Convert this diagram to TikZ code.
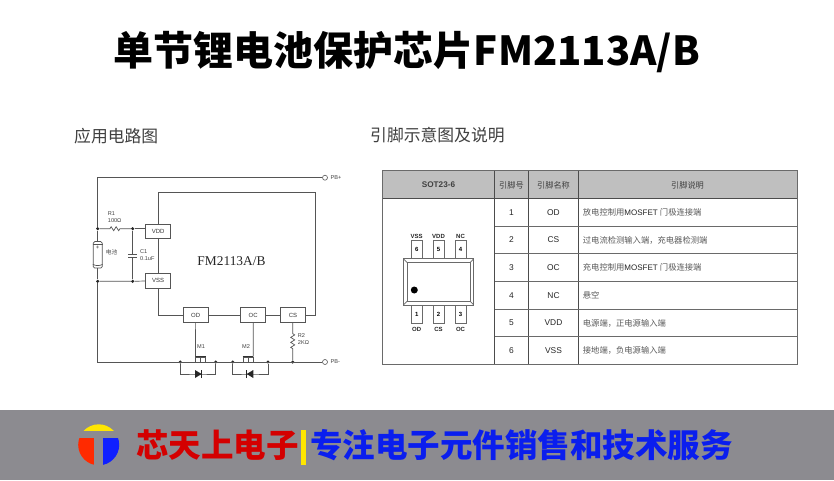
\documentclass[tikz,border=0pt]{standalone}
\usepackage{fontspec}
\setmainfont{Liberation Sans}
\newfontfamily\cjk{Noto Sans CJK SC}
\newfontfamily\chipfont{Liberation Serif}
\usetikzlibrary{decorations.pathmorphing}
\definecolor{wire}{HTML}{555555}
\definecolor{band}{HTML}{8C8B90}
\definecolor{headfill}{HTML}{BFBFBF}
\definecolor{rulecol}{HTML}{6A6A6A}
\definecolor{logored}{HTML}{FF2A00}
\definecolor{logoblue}{HTML}{0F20FF}
\definecolor{logoyellow}{HTML}{FFE600}
\definecolor{brandred}{HTML}{D40000}
\definecolor{brandblue}{HTML}{0A1EEE}
\tikzset{
	wiring/.style={draw=wire,line width=0.7pt},
	pinbox/.style={draw=wire,line width=0.7pt,fill=white,minimum width=25pt,minimum height=14.6pt,inner sep=0pt,font=\fontsize{6}{7}\selectfont,text=black!80},
	junc/.style={circle,fill=black!85,minimum size=3.4pt,inner sep=0pt},
	term/.style={circle,draw=wire,line width=0.6pt,fill=white,minimum size=5pt,inner sep=0pt},
	tiny/.style={inner sep=0pt,font=\fontsize{5.6}{7}\selectfont,text=black!75},
	resistor/.style={wiring,decorate,decoration={zigzag,segment length=5pt,amplitude=2pt,pre length=#1,post length=#1}},
	subhead/.style={inner sep=0pt,font=\cjk\fontsize{16.8}{20}\selectfont,text=black!75},
	headcell/.style={inner sep=0pt,font=\cjk\fontsize{8.2}{10}\selectfont,text=black!75},
	cell/.style={inner sep=0pt,font=\fontsize{8.4}{10}\selectfont,text=black!85},
	desc/.style={anchor=west,inner sep=0pt,font=\cjk\fontsize{8.3}{10}\selectfont,text=black!65},
	pkgpin/.style={draw=rulecol,line width=0.8pt,fill=white,minimum width=11pt,minimum height=18pt,inner sep=0pt,font=\bfseries\fontsize{6}{7}\selectfont},
	pinname/.style={inner sep=0pt,font=\bfseries\fontsize{6}{7}\selectfont,text=black!85},
	brand/.style={inner sep=0pt,font=\cjk\bfseries\fontsize{32.5}{36}\selectfont}
}
\newcommand{\mosword}{{\normalfont\fontsize{8}{10}\selectfont\color{black!85} MOSFET }}
\begin{document}
\begin{tikzpicture}[x=1pt,y=-1pt]
	\useasboundingbox (0,0) rectangle (834,480);
	\fill [white] (0,0) rectangle (834,480);

	\node [inner sep=0pt,font=\cjk\bfseries\fontsize{40}{44}\selectfont] (title) at (407,52) {单节锂电池保护芯片FM2113A/B};
	\node [subhead,anchor=west] (apphead) at (74,136) {应用电路图};
	\node [subhead,anchor=west] (pinhead) at (370,135) {引脚示意图及说明};

	\coordinate (railTL) at (97.7,177.7);
	\coordinate (railBL) at (97.7,362);
	\coordinate (chipTL) at (158.2,192);
	\coordinate (chipTR) at (315.7,192);
	\node [term] (PBplus) at (325,177.7) {};
	\node [term] (PBminus) at (325,362) {};
	\node [tiny,anchor=west] (PBplustext) at (330.5,177.7) {PB+};
	\node [tiny,anchor=west] (PBminustext) at (330.5,362) {PB-};
	\node [junc] (J1) at (97.7,228.7) {};
	\node [junc] (J2) at (132.7,228.7) {};
	\node [junc] (J3) at (97.7,281.3) {};
	\node [junc] (J4) at (132.7,281.3) {};
	\node [junc] (J5) at (180.3,362) {};
	\node [junc] (J6) at (215.7,362) {};
	\node [junc] (J7) at (232.7,362) {};
	\node [junc] (J8) at (268,362) {};
	\node [junc] (J9) at (292.7,362) {};
	\draw [wiring] (J1) -- (railTL) -- (PBplus);
	\draw [wiring] (J3) -- (railBL) -- (PBminus);

	\draw [wiring] (chipTL) -- (chipTR);
	\node [pinbox] (VDD) at (158.2,231.3) {VDD};
	\node [pinbox] (VSS) at (158.2,280.7) {VSS};
	\node [pinbox] (OD) at (195.7,315) {OD};
	\node [pinbox] (OC) at (253.2,315) {OC};
	\node [pinbox] (CS) at (293,315) {CS};
	\draw [wiring] (VDD) -- (chipTL);
	\draw [wiring] (VDD) -- (VSS);
	\draw [wiring] (VSS) |- (OD);
	\draw [wiring] (OD) -- (OC);
	\draw [wiring] (OC) -- (CS);
	\draw [wiring] (CS) -| (chipTR);
	\node [inner sep=0pt,font=\chipfont\fontsize{13.4}{15}\selectfont,text=black!85] (chipname) at (231.5,261) {FM2113A/B};

	\draw [resistor=10.3pt] (J1) -- (J2);
	\draw [wiring] (J2) -- (VDD.west |- J2);
	\draw [wiring] (J3) -- (J4) -- (VSS);
	\node [tiny,anchor=west] (R1text) at (107.7,214) {R1};
	\node [tiny,anchor=west] (R1val) at (107.7,220.7) {100Ω};

	\coordinate (C1top) at (132.7,254.3);
	\coordinate (C1bot) at (132.7,257.7);
	\draw [wiring] (J2) -- (C1top);
	\draw [wiring] (J4) -- (C1bot);
	\draw [wiring] ([xshift=-4.5pt]C1top) -- ([xshift=4.5pt]C1top);
	\draw [wiring] ([xshift=-4.5pt]C1bot) -- ([xshift=4.5pt]C1bot);
	\node [tiny,anchor=west] (C1text) at (140,251.7) {C1};
	\node [tiny,anchor=west] (C1val) at (140,258.3) {0.1uF};

	\node [draw=wire,line width=0.7pt,fill=white,rounded corners=1.5pt,minimum width=9pt,minimum height=26.5pt,inner sep=0pt] (BAT) at (97.7,254.8) {};
	\draw [wiring] (J1) -- (BAT);
	\draw [wiring] (BAT) -- (J3);
	\draw [wiring] ([yshift=-3pt]BAT.north west) -- ([yshift=-3pt]BAT.north east);
	\draw [wiring] ([yshift=4pt]BAT.south west) to [bend right=25] ([yshift=4pt]BAT.south east);
	\node [inner sep=0pt,font=\fontsize{6}{6}\selectfont,text=black!80] (BATplus) at (97.7,248) {+};
	\node [inner sep=0pt,anchor=west,font=\cjk\fontsize{5.8}{7}\selectfont,text=black!70] (BATtext) at (105.7,252) {电池};

	\draw [resistor=11pt] (CS.south -| J9) -- (J9);
	\node [tiny,anchor=west] (R2text) at (297.7,336) {R2};
	\node [tiny,anchor=west] (R2val) at (297.7,342.7) {2KΩ};

	\node [draw=wire,line width=0.6pt,minimum width=10pt,minimum height=5pt,inner sep=0pt] (M1) at (200.7,359.5) {};
	\node [draw=wire,line width=0.6pt,minimum width=10pt,minimum height=5pt,inner sep=0pt] (M2) at (248,359.5) {};
	\draw [line width=1pt,black!80] (M1.north west) -- (M1.north east);
	\draw [line width=1pt,black!80] (M2.north west) -- (M2.north east);
	\draw [wiring,line width=0.5pt] (M1.south) -- (M1.north);
	\draw [wiring,line width=0.5pt] (M2.south) -- (M2.north);
	\draw [wiring] (OD) -- (M1.north west);
	\draw [wiring] (OC) -- (M2.north east);
	\node [tiny] (M1text) at (201,347) {M1};
	\node [tiny] (M2text) at (246,347) {M2};

	\coordinate (D1) at (198.3,374);
	\coordinate (D2) at (250,374);
	\draw [wiring] (J5) |- (D1) -| (J6);
	\draw [wiring] (J7) |- (D2) -| (J8);
	\fill [black!85] ([xshift=-3.3pt,yshift=-4pt]D1) -- ([xshift=-3.3pt,yshift=4pt]D1) -- ([xshift=3.3pt]D1) -- cycle;
	\draw [line width=1pt,black!85] ([xshift=3.3pt,yshift=-4pt]D1) -- ([xshift=3.3pt,yshift=4pt]D1);
	\fill [black!85] ([xshift=3.3pt,yshift=-4pt]D2) -- ([xshift=3.3pt,yshift=4pt]D2) -- ([xshift=-3.3pt]D2) -- cycle;
	\draw [line width=1pt,black!85] ([xshift=-3.3pt,yshift=-4pt]D2) -- ([xshift=-3.3pt,yshift=4pt]D2);

	\fill [headfill] (382.7,170.7) rectangle (797.3,198.3);
	\draw [rulecol,line width=1pt] (382.7,170.7) rectangle (797.3,364);
	\draw [black!70,line width=0.8pt] (382.7,198.3) -- (797.3,198.3);
	\draw [black!70,line width=0.8pt] (494.7,170.7) -- (494.7,364);
	\draw [black!70,line width=0.8pt] (528.3,170.7) -- (528.3,364);
	\draw [black!70,line width=0.8pt] (578.7,170.7) -- (578.7,364);
	\draw [rulecol,line width=0.8pt] (494.7,226) -- (797.3,226);
	\draw [rulecol,line width=0.8pt] (494.7,253.7) -- (797.3,253.7);
	\draw [rulecol,line width=0.8pt] (494.7,281) -- (797.3,281);
	\draw [rulecol,line width=0.8pt] (494.7,309) -- (797.3,309);
	\draw [rulecol,line width=0.8pt] (494.7,336.7) -- (797.3,336.7);

	\node [headcell,font=\bfseries\fontsize{8.2}{10}\selectfont] (headpkg) at (438.5,185) {SOT23-6};
	\node [headcell] (headnum) at (511.5,185) {引脚号};
	\node [headcell] (headname) at (553.5,185) {引脚名称};
	\node [headcell] (headdesc) at (687.5,185) {引脚说明};

	\node [cell] (num1) at (511.5,212.5) {1};
	\node [cell] (num2) at (511.5,240) {2};
	\node [cell] (num3) at (511.5,267.5) {3};
	\node [cell] (num4) at (511.5,295.5) {4};
	\node [cell] (num5) at (511.5,323) {5};
	\node [cell] (num6) at (511.5,350.5) {6};
	\node [cell] (name1) at (553.5,212.5) {OD};
	\node [cell] (name2) at (553.5,240) {CS};
	\node [cell] (name3) at (553.5,267.5) {OC};
	\node [cell] (name4) at (553.5,295.5) {NC};
	\node [cell] (name5) at (553.5,323) {VDD};
	\node [cell] (name6) at (553.5,350.5) {VSS};
	\node [desc] (desc1) at (582.7,212.5) {放电控制用\mosword 门极连接端};
	\node [desc] (desc2) at (582.7,240) {过电流检测输入端，充电器检测端};
	\node [desc] (desc3) at (582.7,267.5) {充电控制用\mosword 门极连接端};
	\node [desc] (desc4) at (582.7,295.5) {悬空};
	\node [desc] (desc5) at (582.7,323) {电源端，正电源输入端};
	\node [desc] (desc6) at (582.7,350.5) {接地端，负电源输入端};

	\node [pkgpin] (pin6) at (416.7,249.5) {6};
	\node [pkgpin] (pin5) at (438.5,249.5) {5};
	\node [pkgpin] (pin4) at (460.5,249.5) {4};
	\node [pkgpin] (pin1) at (416.7,314) {1};
	\node [pkgpin] (pin2) at (438.5,314) {2};
	\node [pkgpin] (pin3) at (460.5,314) {3};
	\node [pinname] (pintext6) at (416.7,236) {VSS};
	\node [pinname] (pintext5) at (438.5,236) {VDD};
	\node [pinname] (pintext4) at (460.5,236) {NC};
	\node [pinname] (pintext1) at (416.7,329) {OD};
	\node [pinname] (pintext2) at (438.5,329) {CS};
	\node [pinname] (pintext3) at (460.5,329) {OC};
	\draw [rulecol,line width=1pt,fill=white] (403.3,258.7) rectangle (473.7,305);
	\draw [rulecol,line width=0.9pt] (407.3,262.7) rectangle (470,301);
	\draw [rulecol,line width=0.7pt] (403.3,258.7) -- (407.3,262.7);
	\draw [rulecol,line width=0.7pt] (473.7,258.7) -- (470,262.7);
	\draw [rulecol,line width=0.7pt] (403.3,305) -- (407.3,301);
	\draw [rulecol,line width=0.7pt] (473.7,305) -- (470,301);
	\fill [black] (414.3,290) circle (3.5);

	\fill [band] (0,410) rectangle (834,480);
	\begin{scope}
		\clip (98.7,444.8) circle (20.5);
		\fill [logoyellow] (70,420) rectangle (130,431);
		\fill [logored] (70,438.3) rectangle (94.3,470);
		\fill [logoblue] (102.7,438.3) rectangle (130,470);
	\end{scope}
	\node [brand,text=brandred,anchor=west] (brandname) at (136,445) {芯天上电子};
	\fill [logoyellow] (301.3,430) rectangle (305.7,465);
	\node [brand,text=brandblue,anchor=west] (brandslogan) at (310,445) {专注电子元件销售和技术服务};
\end{tikzpicture}
\end{document}
